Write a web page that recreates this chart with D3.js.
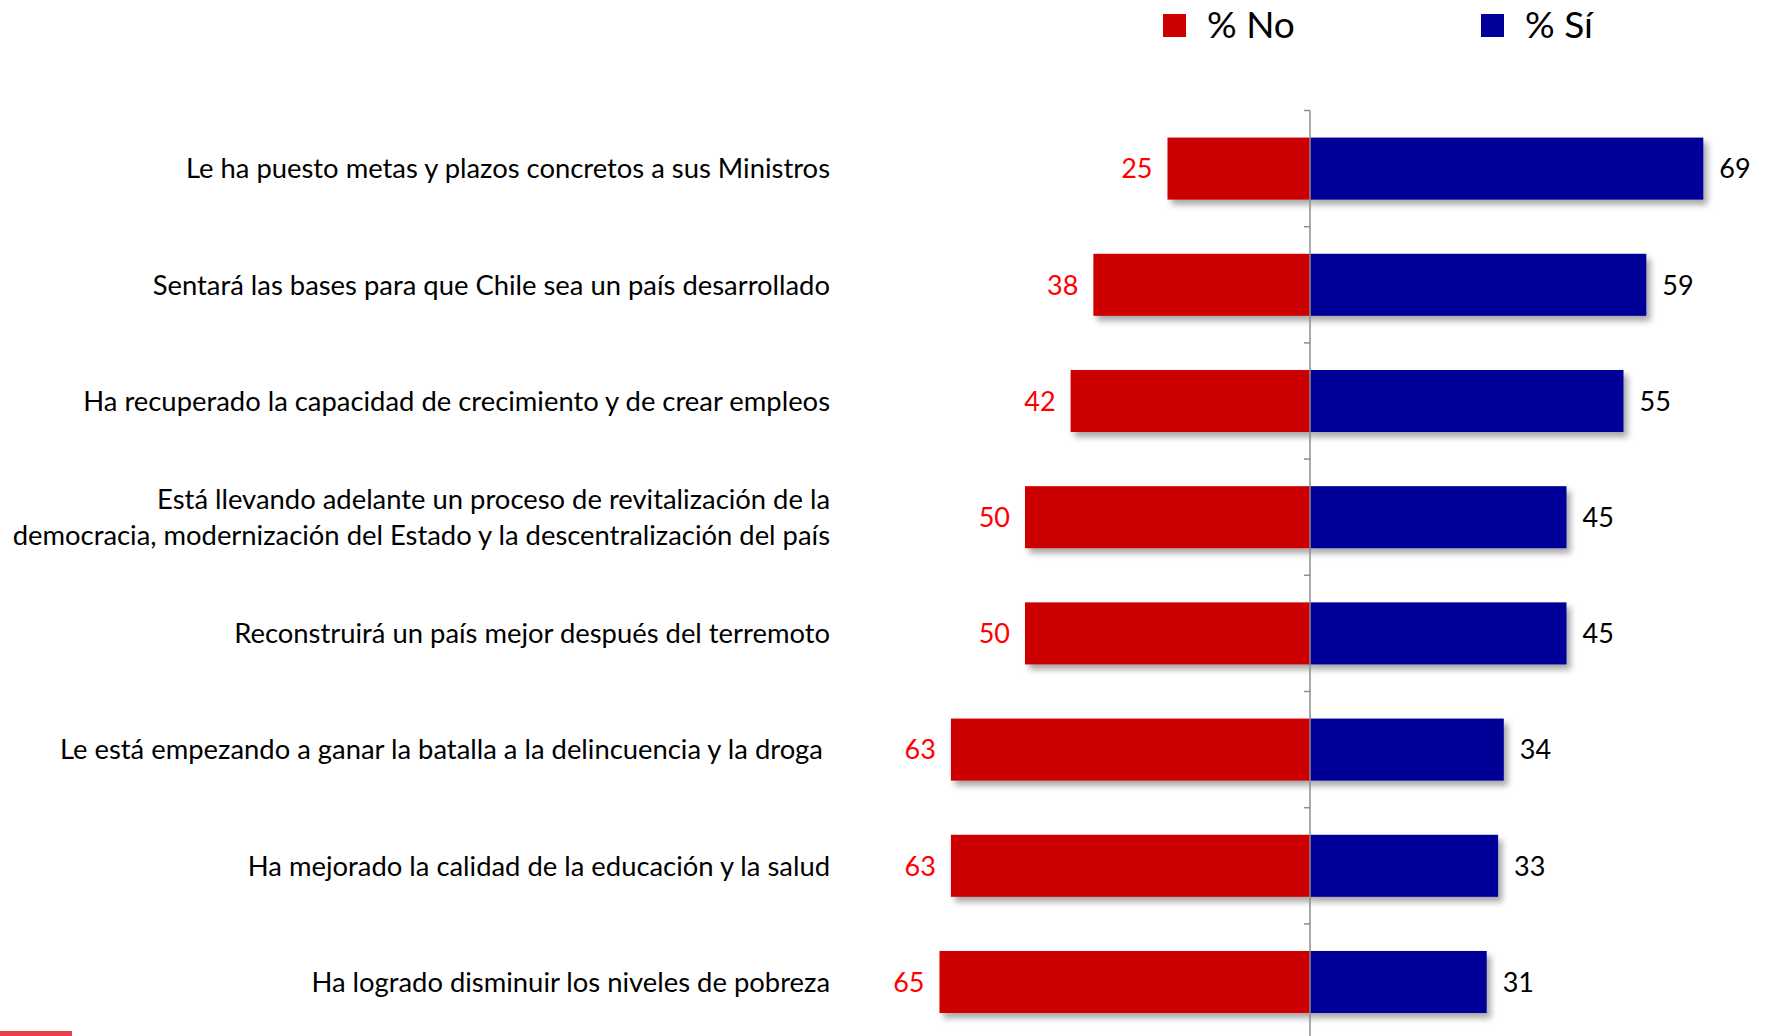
<!DOCTYPE html>
<html>
<head>
<meta charset="utf-8">
<script src="https://cdn.jsdelivr.net/npm/d3@7"></script>
<style>
  body { margin: 0; background: #fff; }
  svg { display: block; font-family: Lato, "Open Sans", sans-serif; }
  .cat { white-space: pre; }
</style>
</head>
<body>
<div id="vis"></div>
<script>
// rows, top to bottom
var categories = [
  'Le ha puesto metas y plazos concretos a sus Ministros',
  'Sentará las bases para que Chile sea un país desarrollado',
  'Ha recuperado la capacidad de crecimiento y de crear empleos',
  'Está llevando adelante un proceso de revitalización de la\ndemocracia, modernización del Estado y la descentralización del país',
  'Reconstruirá un país mejor después del terremoto',
  'Le está empezando a ganar la batalla a la delincuencia y la droga ',
  'Ha mejorado la calidad de la educación y la salud',
  'Ha logrado disminuir los niveles de pobreza'
];
var noValues = [25, 38, 42, 50, 50, 63, 63, 65];
var siValues = [69, 59, 55, 45, 45, 34, 33, 31];
var seriesNames = ['% No', '% Sí'];

var width = 1769;
var height = 1036;
var axisX = 1310;
var unit = 5.70;
var labelX = 830;

var colors = { no: '#cc0000', si: '#000099' };

var svg = d3.select('#vis').append('svg')
  .attr('width', width)
  .attr('height', height);

// soft drop shadow like the office chart
var filter = svg.append('defs').append('filter')
  .attr('id', 'shadow')
  .attr('x', '-5%').attr('y', '-20%')
  .attr('width', '115%').attr('height', '160%');
filter.append('feDropShadow')
  .attr('dx', 4).attr('dy', 5)
  .attr('stdDeviation', 3)
  .attr('flood-color', '#000')
  .attr('flood-opacity', 0.35);

var x = d3.scaleLinear()
  .domain([-100, 100])
  .range([axisX - 100 * unit, axisX + 100 * unit]);

var y = d3.scaleBand()
  .domain(categories)
  .range([110.5, 110.5 + 8 * 116.2])
  .paddingInner(0.466)
  .paddingOuter(0.233);

var rows = categories.map(function (c, i) {
  return { cat: c, no: noValues[i], si: siValues[i] };
});

var g = svg.selectAll('.row')
  .data(rows)
  .enter().append('g')
  .attr('class', 'row');

g.append('rect')
  .attr('x', function (d) { return x(-d.no); })
  .attr('y', function (d) { return y(d.cat); })
  .attr('width', function (d) { return x(0) - x(-d.no); })
  .attr('height', y.bandwidth())
  .attr('fill', colors.no)
  .attr('filter', 'url(#shadow)');

g.append('rect')
  .attr('x', x(0))
  .attr('y', function (d) { return y(d.cat); })
  .attr('width', function (d) { return x(d.si) - x(0); })
  .attr('height', y.bandwidth())
  .attr('fill', colors.si)
  .attr('filter', 'url(#shadow)');

// value labels
g.append('text')
  .attr('x', function (d) { return x(-d.no) - 15; })
  .attr('y', function (d) { return y(d.cat) + y.bandwidth() / 2; })
  .attr('dy', '0.36em')
  .attr('text-anchor', 'end')
  .attr('fill', '#ff0000')
  .style('font-size', '27px')
  .text(function (d) { return d.no; });

g.append('text')
  .attr('x', function (d) { return x(d.si) + 16; })
  .attr('y', function (d) { return y(d.cat) + y.bandwidth() / 2; })
  .attr('dy', '0.36em')
  .attr('fill', '#000')
  .style('font-size', '27px')
  .text(function (d) { return d.si; });

// category labels, right aligned
g.each(function (d) {
  var lines = d.cat.split('\n');
  var cy = y(d.cat) + y.bandwidth() / 2;
  var lh = 36;
  var t = d3.select(this).append('text')
    .attr('class', 'cat')
    .attr('text-anchor', 'end')
    .attr('fill', '#000')
    .style('font-size', '27.4px');
  lines.forEach(function (line, i) {
    t.append('tspan')
      .attr('x', labelX)
      .attr('y', cy + (i - (lines.length - 1) / 2) * lh)
      .attr('dy', '0.36em')
      .text(line);
  });
});

// axis line with ticks on the band edges
var step = y.step();
var edge0 = y(categories[0]) - (step - y.bandwidth()) / 2;
var axisG = svg.append('g').attr('stroke', '#8c8c8c').attr('stroke-width', 1.5);
axisG.append('line')
  .attr('x1', x(0)).attr('x2', x(0))
  .attr('y1', edge0).attr('y2', height);
axisG.selectAll('.tick')
  .data(d3.range(categories.length + 1))
  .enter().append('line')
  .attr('x1', x(0) - 6).attr('x2', x(0))
  .attr('y1', function (i) { return edge0 + i * step; })
  .attr('y2', function (i) { return edge0 + i * step; });

// legend
var legend = svg.append('g');
var legendX = [1163, 1481];
seriesNames.forEach(function (name, i) {
  legend.append('rect')
    .attr('x', legendX[i]).attr('y', 14)
    .attr('width', 23).attr('height', 23)
    .attr('fill', i === 0 ? colors.no : colors.si);
  legend.append('text')
    .attr('x', legendX[i] + 44).attr('y', 25)
    .attr('dy', '0.36em')
    .style('font-size', '37px')
    .attr('fill', '#000')
    .text(name);
});

// small slide accent bottom left
svg.append('rect')
  .attr('x', 0).attr('y', 1031)
  .attr('width', 72).attr('height', 5)
  .attr('fill', '#e8414a');
</script>
</body>
</html>
